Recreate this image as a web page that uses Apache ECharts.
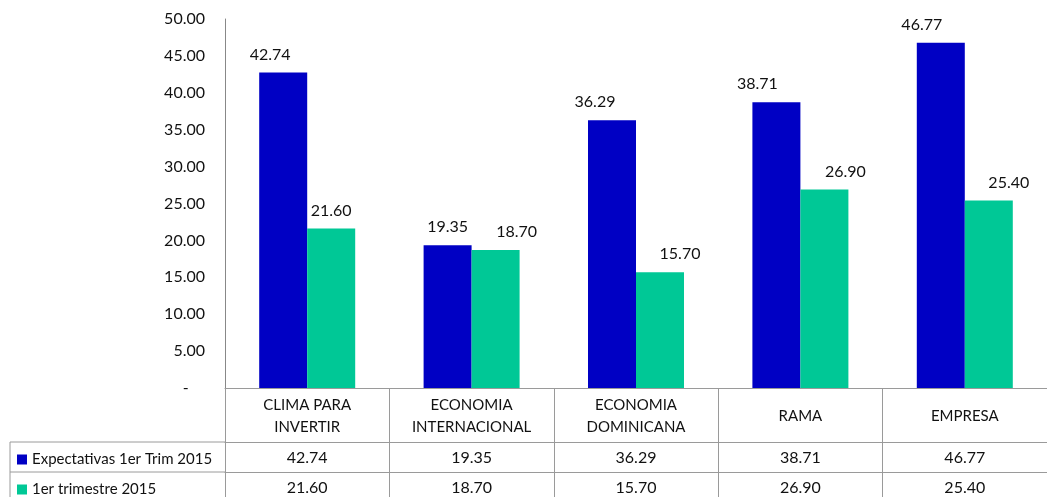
<!DOCTYPE html>
<html lang="es">
<head>
  <meta charset="UTF-8">
  <title>Expectativas</title>
  <script src="https://cdn.jsdelivr.net/npm/echarts@6/dist/echarts.min.js"></script>
  <style>
    html, body { margin: 0; padding: 0; background: #fff; }
    #main { width: 1047px; height: 497px; }
  </style>
</head>
<body>
<div id="main"></div>
<script>
  var categories = ['CLIMA PARA\nINVERTIR', 'ECONOMIA\nINTERNACIONAL', 'ECONOMIA\nDOMINICANA', 'RAMA', 'EMPRESA'];
  var seriesNames = ['Expectativas 1er Trim 2015', '1er trimestre 2015'];
  var expectativas = [42.74, 19.35, 36.29, 38.71, 46.77];
  var trimestre = [21.60, 18.70, 15.70, 26.90, 25.40];
  var yTicks = { min: 0, max: 50, interval: 5 };

  // label nudges as they sit in the original (style only)
  var shiftBlue = [-13, 0, -17, -19, -19];
  var shiftTeal = [0, 21, 20, 21, 20];

  var font = 'Lato';
  var lineColor = '#9a9a9a';
  var gridLeft = 225, gridBottom = 109, axisY = 497 - gridBottom;
  var rowOffsets = [54, 84];

  var chart = echarts.init(document.getElementById('main'));

  function withShift(values, shifts) {
    return values.map(function (v, i) {
      return { value: v, label: { offset: [shifts[i], 0] } };
    });
  }

  function rowAxis(values, offset) {
    return {
      type: 'category',
      position: 'bottom',
      offset: offset,
      data: categories,
      axisLine: { show: true, lineStyle: { color: lineColor, width: 1 } },
      axisTick: { show: false },
      axisLabel: {
        interval: 0,
        margin: 16,
        verticalAlign: 'middle',
        fontFamily: font,
        fontSize: 16,
        color: '#111',
        formatter: function (v, i) { return values[i].toFixed(2); }
      }
    };
  }

  // one legend per table row so each sits in its own row
  function rowLegend(name, offset) {
    return {
      orient: 'horizontal',
      left: 12,
      top: axisY + offset + 5,
      itemWidth: 10,
      itemHeight: 10,
      icon: 'rect',
      selectedMode: false,
      textStyle: { fontFamily: font, fontSize: 15, color: '#111' },
      data: [name]
    };
  }

  var barLabel = {
    show: true, position: 'top', distance: 10,
    fontFamily: font, fontSize: 16, color: '#111',
    formatter: function (p) { return p.value.toFixed(2); }
  };

  var option = {
    animation: false,
    backgroundColor: '#fff',
    grid: { left: gridLeft, right: -9.5, top: 19, bottom: gridBottom },
    legend: [
      rowLegend(seriesNames[0], rowOffsets[0]),
      rowLegend(seriesNames[1], rowOffsets[1])
    ],
    xAxis: [
      {
        type: 'category',
        data: categories,
        axisLine: { show: true, lineStyle: { color: lineColor, width: 1 } },
        axisTick: {
          show: true,
          interval: 0,
          alignWithLabel: false,
          length: 130,
          lineStyle: { color: lineColor, width: 1 }
        },
        axisLabel: {
          interval: 0,
          margin: 28,
          verticalAlign: 'middle',
          fontFamily: font,
          fontSize: 15,
          lineHeight: 22,
          color: '#111'
        }
      },
      rowAxis(expectativas, rowOffsets[0]),
      rowAxis(trimestre, rowOffsets[1])
    ],
    yAxis: {
      type: 'value',
      min: yTicks.min,
      max: yTicks.max,
      interval: yTicks.interval,
      axisLine: { show: true, lineStyle: { color: '#888', width: 1 } },
      axisTick: { show: false },
      splitLine: { show: false },
      axisLabel: {
        margin: 20,
        fontFamily: font,
        fontSize: 16,
        color: '#111',
        formatter: function (v) { return v === 0 ? '-    ' : v.toFixed(2); }
      }
    },
    series: [
      {
        name: seriesNames[0],
        type: 'bar',
        barWidth: 48,
        barGap: '0%',
        itemStyle: { color: '#0000c4' },
        label: barLabel,
        data: withShift(expectativas, shiftBlue)
      },
      {
        name: seriesNames[1],
        type: 'bar',
        barWidth: 48,
        barGap: '0%',
        itemStyle: { color: '#00c896' },
        label: barLabel,
        data: withShift(trimestre, shiftTeal)
      }
    ],
    // borders of the row-label column, outside the grid
    graphic: [
      { type: 'line', shape: { x1: 10, y1: axisY + rowOffsets[0], x2: gridLeft, y2: axisY + rowOffsets[0] }, style: { stroke: lineColor, lineWidth: 1 } },
      { type: 'line', shape: { x1: 10, y1: axisY + rowOffsets[1], x2: gridLeft, y2: axisY + rowOffsets[1] }, style: { stroke: lineColor, lineWidth: 1 } },
      { type: 'line', shape: { x1: 10, y1: axisY + rowOffsets[0], x2: 10, y2: 497 }, style: { stroke: lineColor, lineWidth: 1 } }
    ]
  };

  chart.setOption(option);
</script>
</body>
</html>
